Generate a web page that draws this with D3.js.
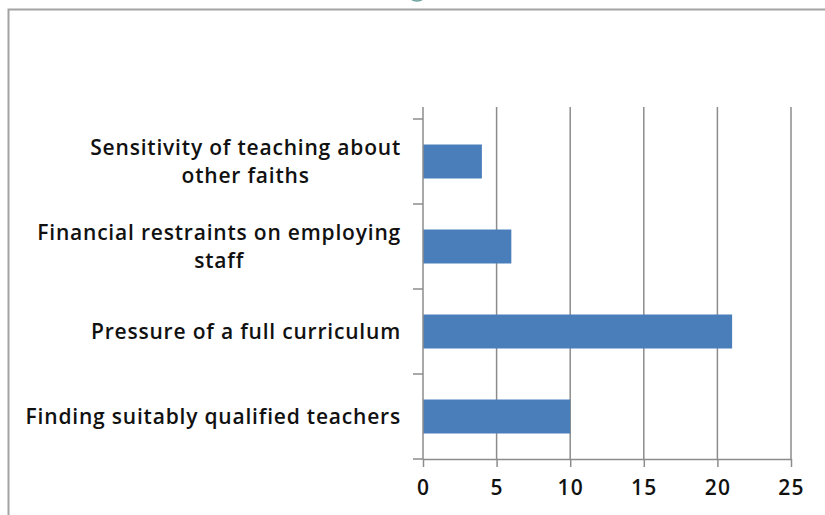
<!DOCTYPE html>
<html>
<head>
<meta charset="utf-8">
<script src="https://cdn.jsdelivr.net/npm/d3@7"></script>
<style>
  html, body { margin: 0; padding: 0; background: #ffffff; }
  svg { display: block; }
  text { font-family: "Open Sans", Lato, sans-serif; fill: #111; }
</style>
</head>
<body>
<svg id="chart" width="825" height="515"></svg>
<script>
// Categories from top to bottom; "\n" marks a line break in the label
const categories = [
  "Sensitivity of teaching about\nother faiths",
  "Financial restraints on employing\nstaff",
  "Pressure of a full curriculum",
  "Finding suitably qualified teachers"
];
const values = [4, 6, 21, 10];
const xTicks = [0, 5, 10, 15, 20, 25];

const svg = d3.select("#chart");

// Plot area
const left = 423, right = 791;
const bandTop = 119, bottom = 459, axisTop = 107;

// Outer frame of the chart area
svg.append("rect")
  .attr("x", 8.5).attr("y", 9.5)
  .attr("width", 840).attr("height", 540)
  .attr("fill", "#ffffff")
  .attr("stroke", "#a3a3a3")
  .attr("stroke-width", 2);

// Small teal ornament peeking from the top edge
svg.append("ellipse")
  .attr("cx", 417).attr("cy", -7)
  .attr("rx", 9).attr("ry", 8)
  .attr("fill", "#b9d3cf")
  .attr("stroke", "#6aa39e")
  .attr("stroke-width", 1.5);

const x = d3.scaleLinear().domain([0, 25]).range([left, right]);
const y = d3.scaleBand().domain(categories).range([bandTop, bottom]).paddingInner(0.6).paddingOuter(0.3);

// Vertical gridlines
svg.append("g")
  .selectAll("line")
  .data(xTicks.slice(1))
  .join("line")
  .attr("x1", d => x(d)).attr("x2", d => x(d))
  .attr("y1", axisTop).attr("y2", bottom)
  .attr("stroke", "#8c8c8c")
  .attr("stroke-width", 1.5);

// Bars
svg.append("g")
  .selectAll("rect")
  .data(categories)
  .join("rect")
  .attr("x", x(0))
  .attr("y", d => y(d))
  .attr("width", (d, i) => x(values[i]) - x(0))
  .attr("height", y.bandwidth())
  .attr("fill", "#4a7ebb");

// Bottom axis
const xAxis = svg.append("g")
  .attr("transform", `translate(0,${bottom})`)
  .call(d3.axisBottom(x).tickValues(xTicks).tickSize(8).tickPadding(13).tickSizeOuter(0));
xAxis.select(".domain").attr("stroke", "#8c8c8c").attr("stroke-width", 1.5);
xAxis.selectAll(".tick line").attr("stroke", "#8c8c8c").attr("stroke-width", 1.5);
xAxis.selectAll(".tick text")
  .attr("font-size", 21)
  .attr("font-weight", 600)
  .attr("letter-spacing", "1.2px")
  .attr("font-family", "'Open Sans', sans-serif")
  .attr("fill", "#111");

// Left axis: line plus ticks at the category band boundaries
const boundaries = d3.range(categories.length + 1).map(i => bandTop + i * y.step());
const yAxis = svg.append("g");
yAxis.append("line")
  .attr("x1", x(0)).attr("x2", x(0))
  .attr("y1", axisTop).attr("y2", bottom)
  .attr("stroke", "#8c8c8c").attr("stroke-width", 1.5);
yAxis.selectAll("line.tk")
  .data(boundaries)
  .join("line")
  .attr("class", "tk")
  .attr("x1", x(0) - 10).attr("x2", x(0))
  .attr("y1", d => d).attr("y2", d => d)
  .attr("stroke", "#8c8c8c").attr("stroke-width", 1.5);

// Category labels: lines centred within a block that ends at the label edge
const labelRight = 401;
const lineGap = 28;
categories.forEach((c, i) => {
  const lines = c.split("\n");
  const cy = y(c) + y.bandwidth() / 2;
  const t = svg.append("text")
    .attr("text-anchor", "middle")
    .attr("font-size", 21)
    .attr("font-weight", 600)
    .attr("letter-spacing", "0.8px");
  lines.forEach((ln, j) => {
    t.append("tspan")
      .attr("x", 0)
      .attr("y", cy + (j - (lines.length - 1) / 2) * lineGap)
      .attr("dy", "0.35em")
      .text(ln);
  });
  const w = t.node().getBBox().width;
  t.attr("transform", `translate(${labelRight - w / 2},0)`);
});
</script>
</body>
</html>
